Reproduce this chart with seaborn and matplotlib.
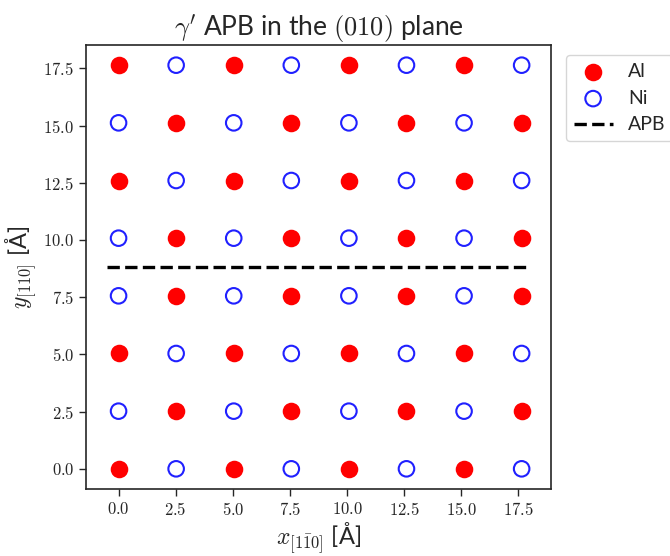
import matplotlib
matplotlib.use("Agg")
import matplotlib.pyplot as plt
from matplotlib.ticker import FuncFormatter
import seaborn as sns
import pandas as pd

# Atomic column positions along [1-10] and [110] (Angstrom)
x_sites = [0.0, 2.52, 5.04, 7.56, 10.08, 12.6, 15.12, 17.64]
y_sites = [0.0, 2.52, 5.04, 7.56, 10.08, 12.6, 15.12, 17.64]

# Occupancy of each row, bottom to top (A = Al, N = Ni)
occupancy = [
    "ANANANAN",
    "NANANANA",
    "ANANANAN",
    "NANANANA",
    "NANANANA",
    "ANANANAN",
    "NANANANA",
    "ANANANAN",
]

# Antiphase boundary trace
apb_x = [-0.5, 18.0]
apb_y = [8.82, 8.82]

species_names = {"A": "Al", "N": "Ni"}

records = []
for j, row in enumerate(occupancy):
    for i, code in enumerate(row):
        records.append({"x": x_sites[i], "y": y_sites[j], "species": species_names[code]})
atoms = pd.DataFrame(records)

sns.set_style("ticks")
plt.rcParams["font.family"] = ["Lato", "DejaVu Sans"]
plt.rcParams["mathtext.fontset"] = "cm"

fig = plt.figure(figsize=(6.7, 5.56), dpi=100)
ax = fig.add_axes([86 / 670, 1 - 489 / 556, 465 / 670, 444 / 556])

al = atoms[atoms["species"] == "Al"]
ni = atoms[atoms["species"] == "Ni"]

sns.scatterplot(data=al, x="x", y="y", ax=ax, color="#ff0000", s=160,
                linewidth=0, label="Al", zorder=3)
sns.scatterplot(data=ni, x="x", y="y", ax=ax, facecolor="none",
                edgecolor="#2020ff", s=125, linewidth=1.5, label="Ni", zorder=3)
sns.lineplot(x=apb_x, y=apb_y, ax=ax, color="black", linestyle="--",
             linewidth=2.4, label="APB", zorder=2)

for side in ["top", "right", "left", "bottom"]:
    ax.spines[side].set_visible(True)
    ax.spines[side].set_linewidth(1.2)

fmt = FuncFormatter(lambda v, pos: f"${v:.1f}$")
ax.xaxis.set_major_formatter(fmt)
ax.yaxis.set_major_formatter(fmt)
ax.tick_params(labelsize=12, length=5, width=1.0)

ax.set_xlabel(r"$x_{[1\bar{1}0]}$ [Å]", fontsize=17, labelpad=2)
ax.set_ylabel(r"$y_{[110]}$ [Å]", fontsize=17, labelpad=3)
ax.set_title(r"$\gamma'$ APB in the $(010)$ plane", fontsize=19, pad=5)

ax.legend(loc="upper left", bbox_to_anchor=(1.032, 0.977), borderaxespad=0,
          fontsize=14, frameon=True)

fig.savefig("out.png", dpi=100)
